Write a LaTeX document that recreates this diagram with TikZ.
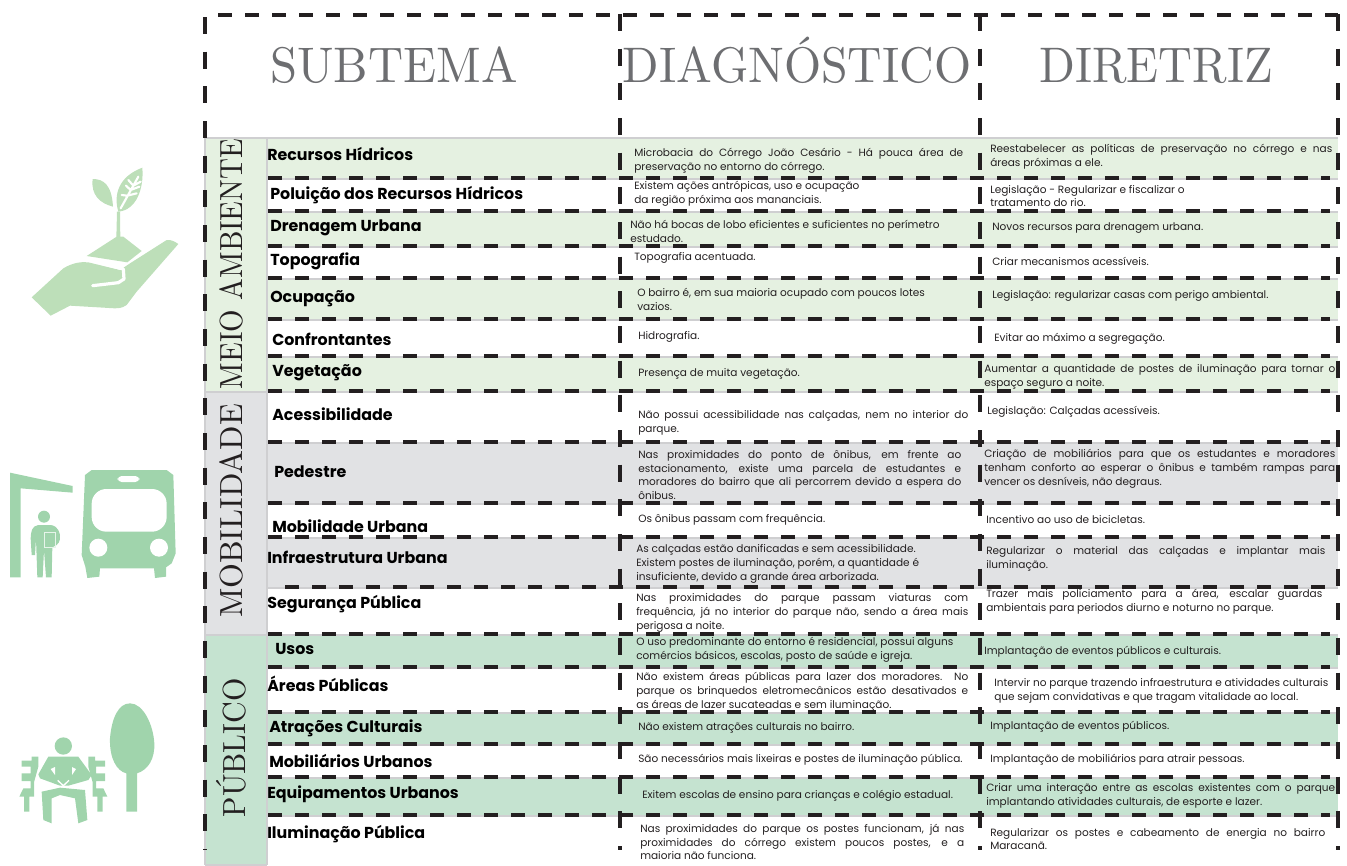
\documentclass[tikz,border=0pt]{standalone}
\usepackage{fontspec}
\newfontfamily\bodyf{Poppins}
\definecolor{inkd}{HTML}{231F20}
\definecolor{headg}{HTML}{6D6E71}
\definecolor{bandA}{HTML}{E5F1E1}
\definecolor{bandB}{HTML}{E1E2E4}
\definecolor{bandC}{HTML}{C5E3D0}
\definecolor{rulec}{HTML}{CFCFD1}
\definecolor{icoA}{HTML}{BDDFB9}
\definecolor{icoB}{HTML}{A0D4AC}
\newcommand\jl[2]{\makebox[\dimexpr#1pt*3/4\relax][s]{#2}}
\newcommand\bigserif[3]{\scalebox{#1}[#2]{\fontsize{10}{12}\selectfont #3}}
\tikzset{
  px/.style={x=.75pt,y=-.75pt},
  bodytext/.style={anchor=west,inner sep=0pt,align=left,text=inkd,font=\bodyf\fontsize{7.9}{10.4}\selectfont},
  sublabel/.style={anchor=west,inner sep=0pt,text=black,font=\bodyf\bfseries\fontsize{11.9}{13}\selectfont},
  headlabel/.style={anchor=base,inner sep=0pt,text=headg},
  sidelabel/.style={inner sep=0pt,rotate=90,text=inkd},
  hdash/.style={draw=inkd,line width=3.7pt,dash pattern=on 10.2pt off 10.05pt},
  vdash/.style={draw=inkd,line width=3.7pt,dash pattern=on 12.75pt off 13.25pt},
  grule/.style={draw=rulec,line width=1.5pt},
}
\begin{document}
\begin{tikzpicture}[px]
\useasboundingbox (0,0) rectangle (1347,865);
% bands
\fill[bandA] (205,138) rectangle (267,391);
\fill[bandB] (205,391) rectangle (267,634);
\fill[bandC] (205,634) rectangle (267,865);
\fill[bandA] (267,138) rectangle (1338,178);
\fill[bandA] (267,211) rectangle (1338,246);
\fill[bandA] (267,278) rectangle (1338,319);
\fill[bandA] (267,356) rectangle (1338,391);
\fill[bandB] (267,442) rectangle (1338,503);
\fill[bandB] (267,537) rectangle (1338,588);
\fill[bandC] (267,634) rectangle (1338,667);
\fill[bandC] (267,712) rectangle (1338,744);
\fill[bandC] (267,777) rectangle (1338,815);
% thin rules
\foreach \yy in {179,212,247,279,320,357,443,504,538,588,668,713,745,778,816}
  \draw[grule] (267,\yy) -- (1338,\yy);
\foreach \yy in {138,392,635}
  \draw[grule] (205,\yy) -- (1338,\yy);
\draw[grule] (267,138) -- (267,865);
\draw[grule] (205,865) -- (267,865) (205,138) -- (205,865);
% dashed lines
\draw[hdash] (218,15) -- (1338,15);
\foreach \yy in {178,211,246,278,319,356,391,442,503,537,634,667,712,744,777,815}
  \draw[hdash] (268,\yy) -- (1330,\yy);
\draw[hdash] (285,587) -- (1330,587);
\draw[vdash] (205,17) -- (205,850);
\draw[vdash] (620,14) -- (620,850);
\draw[vdash] (980,14) -- (980,850);
\draw[vdash] (1338,14) -- (1338,850);
% headers
\node[headlabel] (hsub) at (394,82) {\bigserif{3.65}{3.75}{SUBTEMA}};
\node[headlabel] (hdia) at (797,82) {\bigserif{3.58}{3.75}{DIAGNÓSTICO}};
\node[headlabel] (hdir) at (1156,82) {\bigserif{3.52}{3.75}{DIRETRIZ}};
% side labels
\node[sidelabel] (smeio) at (231,264) {\bigserif{2.17}{2.4}{MEIO AMBIENTE}};
\node[sidelabel] (smob) at (231,511) {\bigserif{2.4}{2.4}{MOBILIDADE}};
\node[sidelabel] (spub) at (231,748) {\bigserif{2.25}{2.4}{PÚBLICO}};
% sub labels
\node[sublabel] (l1) at (267,154) {Recursos Hídricos};
\node[sublabel] (l2) at (270,195) {Poluição dos Recursos Hídricos};
\node[sublabel] (l3) at (270,228) {Drenagem Urbana};
\node[sublabel] (l4) at (270,261) {Topografia};
\node[sublabel] (l5) at (270,299) {Ocupação};
\node[sublabel] (l6) at (272,339) {Confrontantes};
\node[sublabel] (l7) at (272,373) {Vegetação};
\node[sublabel] (l8) at (272,414) {Acessibilidade};
\node[sublabel] (l9) at (274,472) {Pedestre};
\node[sublabel] (l10) at (272,526) {Mobilidade Urbana};
\node[sublabel] (l11) at (267,557) {Infraestrutura Urbana};
\node[sublabel] (l12) at (267,604) {Segurança Pública};
\node[sublabel] (l13) at (275,649) {Usos};
\node[sublabel] (l14) at (267,684) {Áreas Públicas};
\node[sublabel] (l15) at (269,728) {Atrações Culturais};
\node[sublabel] (l16) at (269,761) {Mobiliários Urbanos};
\node[sublabel] (l17) at (267,794) {Equipamentos Urbanos};
\node[sublabel] (l18) at (267,834) {Iluminação Pública};
% diagnostico
\node[bodytext] (d1) at (634,161) {\jl{329}{Microbacia do Córrego João Cesário - Há pouca área de}\\preservação no entorno do córrego.};
\node[bodytext] (d2) at (634,194) {Existem ações antrópicas, uso e ocupação\\da região próxima aos mananciais.};
\node[bodytext] (d3) at (630,231) {Não há bocas de lobo eficientes e suficientes no perímetro\\estudado.};
\node[bodytext] (d4) at (634,258) {Topografia acentuada.};
\node[bodytext] (d5) at (637,299) {O bairro é, em sua maioria  ocupado com poucos lotes\\vazios.};
\node[bodytext] (d6) at (638,337) {Hidrografia.};
\node[bodytext] (d7) at (638,374) {Presença de muita vegetação.};
\node[bodytext] (d8) at (638,423) {\jl{330}{Não possui acessibilidade nas calçadas, nem no interior do}\\parque.};
\node[bodytext] (d9) at (638,475) {\jl{323}{Nas proximidades do ponto de ônibus, em frente ao}\\\jl{323}{estacionamento, existe uma parcela de estudantes e}\\\jl{323}{moradores do bairro que ali percorrem devido a espera do}\\ônibus.};
\node[bodytext] (d10) at (638,520) {Os ônibus passam com frequência.};
\node[bodytext] (d11) at (636,564) {As calçadas estão danificadas e sem acessibilidade.\\Existem postes de iluminação, porém, a quantidade é\\insuficiente, devido a grande área arborizada.};
\node[bodytext] (d12) at (636,613) {\jl{332}{Nas proximidades do parque passam viaturas com}\\\jl{332}{frequência, já no interior do parque não, sendo a área mais}\\perigosa a noite.};
\node[bodytext] (d13) at (636,650) {O uso predominante do entorno é residencial, possui alguns\\comércios básicos, escolas, posto de saúde e igreja.};
\node[bodytext] (d14) at (636,692) {\jl{332}{Não existem áreas públicas para lazer dos moradores. No}\\\jl{332}{parque os brinquedos eletromecânicos estão desativados e}\\as áreas de lazer sucateadas e sem iluminação.};
\node[bodytext] (d15) at (638,728) {Não existem atrações culturais no bairro.};
\node[bodytext] (d16) at (638,760) {São necessários mais lixeiras e postes de iluminação pública.};
\node[bodytext] (d17) at (642,796) {Exitem escolas de ensino para crianças e colégio estadual.};
\node[bodytext] (d18) at (640,842) {\jl{324}{Nas proximidades do parque os postes funcionam, já nas}\\\jl{324}{proximidades do córrego existem poucos postes, e a}\\maioria não funciona.};
% diretriz
\node[bodytext] (r1) at (990,157) {\jl{342}{Reestabelecer as políticas de preservação no córrego e nas}\\áreas próximas a ele.};
\node[bodytext] (r2) at (990,196) {Legislação - Regularizar  e fiscalizar o\\tratamento do rio.};
\node[bodytext] (r3) at (992,228) {Novos recursos para drenagem urbana.};
\node[bodytext] (r4) at (992,261) {Criar mecanismos acessíveis.};
\node[bodytext] (r5) at (992,296) {Legislação: regularizar casas com perigo ambiental.};
\node[bodytext] (r6) at (994,339) {Evitar ao máximo a segregação.};
\node[bodytext] (r7) at (984,377) {\jl{351}{Aumentar a quantidade de postes de iluminação para tornar o}\\espaço seguro a noite.};
\node[bodytext] (r8) at (987,412) {Legislação: Calçadas acessíveis.};
\node[bodytext] (r9) at (984,469) {\jl{351}{Criação de mobiliários para que os estudantes e moradores}\\\jl{351}{tenham conforto ao esperar o ônibus e também rampas para}\\vencer os desníveis, não degraus.};
\node[bodytext] (r10) at (986,520) {Incentivo ao uso de bicicletas.};
\node[bodytext] (r11) at (986,559) {\jl{339}{Regularizar o material das calçadas e implantar mais}\\iluminação.};
\node[bodytext] (r12) at (986,602) {\jl{336}{Trazer mais policiamento para a área, escalar guardas}\\ambientais para periodos diurno e noturno no parque.};
\node[bodytext] (r13) at (984,652) {Implantação de eventos públicos e culturais.};
\node[bodytext] (r14) at (994,691) {Intervir no parque trazendo infraestrutura e atividades culturais\\que sejam convidativas e que tragam vitalidade ao local.};
\node[bodytext] (r15) at (990,727) {Implantação de eventos públicos.};
\node[bodytext] (r16) at (990,760) {Implantação de mobiliários para atrair pessoas.};
\node[bodytext] (r17) at (986,796) {\jl{349}{Criar uma interação entre as escolas existentes com o parque}\\implantando atividades culturais, de esporte e lazer.};
\node[bodytext] (r18) at (990,839) {\jl{335}{Regularizar os postes e cabeamento de energia no bairro}\\Maracanã.};
% hand icon
\begin{scope}[shift={(20,155)},x=.25pt,y=-.25pt]
\fill[icoA] (35,427) -- (130,340) .. controls (160,322) and (185,320) .. (205,322) -- (300,345) -- (330,325) -- (440,255) .. controls (452,253) and (465,260) .. (475,267) -- (350,410) -- (320,450) .. controls (305,460) and (295,460) .. (285,460) -- (150,452) -- (92,482) -- cycle;
\fill[icoA] (200,303) -- (290,245) -- (310,245) -- (365,288) -- (322,322) -- cycle;
\draw[white,line width=2.4pt,line cap=round,line join=round] (195,312) -- (310,342) -- (312,372) -- (295,383) -- (218,392);
\fill[icoA] (289,250) -- (291,170) -- (300,170) -- (301,250) -- cycle;
\fill[icoA] (218,72) .. controls (250,72) and (275,88) .. (279,155) .. controls (240,145) and (212,120) .. (218,72) -- cycle;
\fill[icoA] (367,38) .. controls (372,100) and (350,165) .. (295,170) .. controls (280,120) and (295,65) .. (367,38) -- cycle;
\draw[white,line width=1.6pt,line cap=round] (302,160) -- (355,65) (322,122) -- (305,120) (332,105) -- (318,92) (340,92) -- (325,75) (322,122) -- (350,115) (332,105) -- (358,95) (340,92) -- (362,80);
\end{scope}
% bus icon
\begin{scope}[shift={(0,460)},x=.25pt,y=-.25pt]
\fill[icoB] (30,38) -- (218,78) -- (218,98) -- (62,85) -- (62,352) -- (30,352) -- cycle;
\fill[icoB] (132,170) circle[radius=18];
\fill[icoB] (115,195) .. controls (95,198) and (93,215) .. (92,235) -- (95,285) -- (105,285) -- (108,235) -- (112,352) -- (128,352) -- (132,270) -- (138,352) -- (155,352) -- (157,262) .. controls (175,255) and (182,245) .. (180,225) .. controls (175,200) and (160,195) .. (150,195) -- cycle;
\draw[white!75!icoB,line width=.6pt] (134,218) rectangle (166,262);
\fill[icoB] (255,45) -- (275,30) -- (500,30) -- (520,45) -- (527,280) -- (515,310) -- (498,322) -- (498,350) -- (465,354) -- (462,325) -- (300,325) -- (298,350) -- (262,354) -- (256,320) -- (245,285) -- cycle;
\fill[white,rounded corners=11pt] (275,87) rectangle (500,215);
\fill[white] (295,263) circle[radius=27];
\fill[white] (477,263) circle[radius=27];
\fill[white,rounded corners=3pt] (353,48) rectangle (418,66);
\end{scope}
% bench icon
\begin{scope}[shift={(10,695)},x=.25pt,y=-.25pt]
\fill[icoB] (360,25) .. controls (325,25) and (305,70) .. (300,130) .. controls (298,190) and (320,228) .. (349,235) -- (349,350) -- (381,350) -- (381,235) .. controls (415,225) and (435,190) .. (433,145) .. controls (430,90) and (400,25) .. (360,25) -- cycle;
\fill[icoB] (160,153) circle[radius=26];
\fill[icoB] (115,185) -- (205,185) -- (245,240) -- (235,255) -- (175,272) -- (150,272) -- (90,250) -- (85,238) -- cycle;
\fill[white] (122,222) -- (135,216) -- (135,240) -- cycle;
\fill[white] (198,222) -- (186,216) -- (186,240) -- cycle;
\draw[white,line width=1pt] (143,256) -- (160,272) -- (177,256);
\fill[icoB] (95,290) -- (150,278) -- (225,285) -- (232,375) -- (205,385) -- (195,310) -- (150,300) -- (125,310) -- (125,385) -- (100,375) -- cycle;
\foreach \s/\o in {1/0,-1/320}{
  \begin{scope}[shift={(\o*.25pt/.75pt*.75pt,0)},xscale=\s]
  \fill[icoB] (65,185) -- (85,185) -- (85,215) -- (72,262) -- (72,305) -- (58,305) -- (58,350) -- (42,350) -- (42,305) -- (28,305) -- (40,280) -- (62,280) -- (62,258) -- (35,258) -- (35,235) -- (62,235) -- (62,215) -- (35,215) -- (35,197) -- (65,197) -- cycle;
  \end{scope}
}
\end{scope}
\end{tikzpicture}
\end{document}
